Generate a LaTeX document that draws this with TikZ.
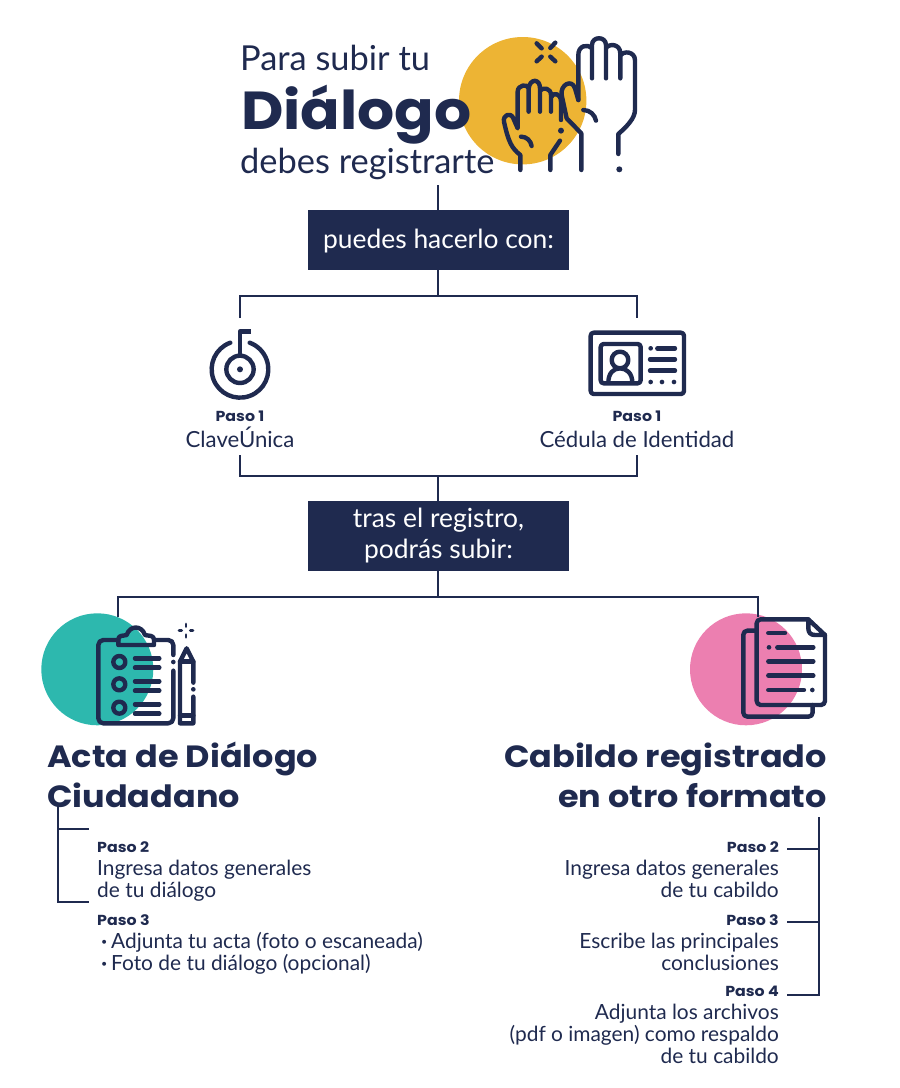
\documentclass[tikz,border=0pt]{standalone}
\usepackage{fontspec}
\setmainfont{Lato}
\newfontfamily\headfont[FakeStretch=1.09]{Poppins}
\definecolor{navy}{HTML}{1F2A4F}
\definecolor{amber}{HTML}{EDB434}
\definecolor{teal2}{HTML}{2DB8AE}
\definecolor{pink2}{HTML}{EC7FB0}
\tikzset{
 conn/.style={draw=navy,line width=1.9pt},
 icon/.style={draw=navy,line width=4.4pt,line cap=round,line join=round},
 zoomed/.style={x=.3333pt,y=-.3333pt},
 banner/.style={fill=navy,text=white,minimum width=261pt,inner sep=0pt,align=center,font=\fontsize{26.4}{31}\selectfont},
 body/.style={text=navy,inner sep=0pt,font=\fontsize{20.9}{22}\selectfont},
 bodybig/.style={text=navy,inner sep=0pt,font=\fontsize{22.2}{22}\selectfont},
 paso/.style={text=navy,inner sep=0pt,font=\headfont\bfseries\fontsize{14.5}{14}\selectfont},
 head/.style={text=navy,inner sep=0pt,font=\headfont\bfseries\fontsize{30.7}{40}\selectfont},
 title/.style={text=navy,inner sep=0pt,anchor=base west,font=\fontsize{34.4}{33}\selectfont},
}
\begin{document}
\begin{tikzpicture}[x=1pt,y=-1pt]
\useasboundingbox (0,0) rectangle (900,1088);
% coloured discs
\fill[amber] (522.7,100.7) circle (63.7);
\fill[teal2] (97.3,669.3) circle (56);
\fill[pink2] (746,669.3) circle (56);
% title
\node[title] (t1) at (240,70) {Para subir tu};
\node[text=navy,inner sep=0pt,anchor=base west,font=\headfont\bfseries\fontsize{53.5}{50}\selectfont] (t2) at (241,129) {Diálogo};
\node[title] (t3) at (240,173) {debes registrarte};
% banners
\node[banner,minimum height=60pt,text height=19pt,text depth=3pt] (b1) at (438.5,240) {puedes hacerlo con:};
\node[banner,minimum height=70pt] (b2) at (438.5,536) {tras el registro,\\podrás subir:};
% connector junctions
\coordinate (top) at (438,185);
\coordinate (j1) at (438,296);
\coordinate (j1l) at (240,296);
\coordinate (j1r) at (637,296);
\coordinate (k1) at (240,318);
\coordinate (k2) at (637,318);
\coordinate (m1) at (240,455);
\coordinate (m2) at (637,455);
\coordinate (j2) at (438,476);
\coordinate (j2l) at (240,476);
\coordinate (j2r) at (637,476);
\coordinate (j3) at (438,597);
\coordinate (j3l) at (118,597);
\coordinate (j3r) at (758,597);
\coordinate (n1) at (118,617);
\coordinate (n2) at (758,617);
\draw[conn] (top) -- (b1.north -| top);
\draw[conn] (b1.south -| top) -- (j1);
\draw[conn] (k1) -- (j1l) -- (j1r) -- (k2);
\draw[conn] (m1) -- (j2l) -- (j2r) -- (m2);
\draw[conn] (j2) -- (b2.north -| j2);
\draw[conn] (b2.south -| j2) -- (j3);
\draw[conn] (n1) -- (j3l) -- (j3r) -- (n2);
% left bracket
\coordinate (la) at (58,803);
\coordinate (lb) at (58,829);
\coordinate (lc) at (58,902);
\coordinate (lb2) at (89,829);
\coordinate (lc2) at (89,902);
\draw[conn] (la) -- (lc) -- (lc2);
\draw[conn] (lb) -- (lb2);
% right bracket
\coordinate (ra) at (819,817);
\coordinate (ra2) at (819,995);
\coordinate (rb) at (787,849);
\coordinate (rb2) at (819,849);
\coordinate (rc) at (787,922);
\coordinate (rc2) at (819,922);
\coordinate (rd) at (787,995);
\draw[conn] (ra) -- (ra2) -- (rd);
\draw[conn] (rb) -- (rb2);
\draw[conn] (rc) -- (rc2);
% hands icon
\begin{scope}[shift={(440,20)},zoomed,icon]
\draw (415,240) -- (415,105) .. controls (415,78) and (440,70) .. (456,85) (456,175) -- (456,75) .. controls (456,48) and (498,48) .. (498,75) -- (498,175) (498,85) .. controls (505,70) and (541,70) .. (541,100) -- (541,175) (541,108) .. controls (550,90) and (585,95) .. (585,120) -- (585,270) .. controls (585,295) and (560,320) .. (535,342) -- (535,402);
\draw (424,450) -- (424,340) -- (380,295) -- (365,225) .. controls (360,195) and (395,175) .. (405,205) -- (415,240);
\draw (430,270) .. controls (450,270) and (465,285) .. (468,302);
\draw (241,450) -- (241,405) .. controls (215,385) and (205,365) .. (192,305) .. controls (188,285) and (212,275) .. (220,295) -- (233,325) -- (233,215) .. controls (233,195) and (262,190) .. (266,205) -- (266,275) (266,205) .. controls (270,175) and (300,175) .. (300,205) -- (300,275) (300,212) .. controls (310,200) and (333,205) .. (333,225) -- (333,275) (333,232) .. controls (340,215) and (363,220) .. (363,245) -- (363,300);
\draw (331,450) -- (331,405) -- (360,362);
\draw (243,350) .. controls (260,350) and (272,362) .. (275,378);
\draw (290,70) -- (305,85) (346,68) -- (331,84) (290,124) -- (305,110) (346,124) -- (331,110);
\fill[navy,draw=none] (538,448) circle (9) (363,332) circle (9);
\end{scope}
% key icon
\begin{scope}[shift={(180,310)},zoomed,icon]
\draw (150.9,98.1) arc[start angle=-110,end angle=-430,radius=85];
\draw (180,178) circle (41);
\draw[line cap=butt] (180,137) -- (180,65) -- (212,65);
\fill[navy,draw=none] (180,178) circle (9);
\end{scope}
% id card icon
\begin{scope}[shift={(570,310)},zoomed,icon]
\draw[rounded corners=3pt] (62,68) rectangle (342,252);
\draw[rounded corners=3pt] (92,102) rectangle (212,220);
\draw (150,150) circle (25);
\draw (115,218) .. controls (115,190) and (130,175) .. (150,175) .. controls (170,175) and (187,190) .. (187,218);
\draw (262,115) -- (315,115) (240,148) -- (315,148) (240,182) -- (315,182);
\fill[navy,draw=none] (242,115) circle (7) (242,216) circle (7) (276,216) circle (7) (312,216) circle (7);
\end{scope}
% clipboard icon
\begin{scope}[shift={(30,600)},zoomed,icon]
\draw[rounded corners=5pt] (265,120) -- (205,120) -- (205,370) -- (430,370) -- (430,212);
\draw[rounded corners=5pt] (430,165) -- (430,120) -- (372,120);
\draw (265,135) -- (372,135) -- (372,118) .. controls (372,105) and (355,108) .. (345,105) .. controls (335,75) and (300,75) .. (290,105) .. controls (280,108) and (265,105) .. (265,118) -- cycle;
\draw (268,186) circle (18) (268,253) circle (18) (268,323) circle (18);
\draw (315,175) -- (388,175) (315,203) -- (388,203) (315,244) -- (388,244) (315,272) -- (388,272) (315,313) -- (388,313) (315,341) -- (388,341);
\draw (490,290) -- (490,370) -- (450,370) -- (450,185) -- (470,145) -- (490,185) -- (490,248);
\draw (450,185) -- (490,185) (450,347) -- (490,347);
\draw[line width=2.8pt] (468,72) -- (468,80) (468,104) -- (468,112) (447,92) -- (455,92) (481,92) -- (489,92);
\fill[navy,draw=none] (430,186) circle (7) (490,268) circle (7);
\end{scope}
% documents icon
\begin{scope}[shift={(680,600)},zoomed,icon]
\draw[rounded corners=4pt] (385,58) -- (230,58) -- (230,315) -- (435,315) -- (435,105);
\draw (385,58) -- (435,105) -- (405,105) .. controls (392,105) and (385,98) .. (385,85) -- cycle;
\draw[rounded corners=4pt] (230,92) -- (190,92) -- (190,350) -- (398,350) -- (398,315);
\draw (265,99) -- (315,99) (292,142) -- (400,142) (265,184) -- (400,184) (265,227) -- (400,227) (265,270) -- (372,270);
\fill[navy,draw=none] (267,142) circle (7) (397,270) circle (7);
\end{scope}
% labels
\node[paso,anchor=base] (p1a) at (240,421) {Paso 1};
\node[bodybig,anchor=base] (c1) at (240,447) {ClaveÚnica};
\node[paso,anchor=base] (p1b) at (637,421) {Paso 1};
\node[bodybig,anchor=base] (c2) at (637,447) {Cédula de Identidad};
\node[head,anchor=base west] (h1a) at (47,767) {Acta de Diálogo};
\node[head,anchor=base west] (h1b) at (47,807) {Ciudadano};
\node[head,anchor=base east] (h2a) at (827,767) {Cabildo registrado};
\node[head,anchor=base east] (h2b) at (827,807) {en otro formato};
\node[paso,anchor=base west] (l1) at (97,852) {Paso 2};
\node[body,anchor=base west] (l2) at (97,875) {Ingresa datos generales};
\node[body,anchor=base west] (l3) at (97,897) {de tu diálogo};
\node[paso,anchor=base west] (l4) at (97,925) {Paso 3};
\node[body,anchor=base west] (l5) at (97,948) {\makebox[14pt][c]{\textbf{·}}Adjunta tu acta (foto o escaneada)};
\node[body,anchor=base west] (l6) at (97,970) {\makebox[14pt][c]{\textbf{·}}Foto de tu diálogo (opcional)};
\node[paso,anchor=base east] (r1) at (779,852) {Paso 2};
\node[body,anchor=base east] (r2) at (779,875) {Ingresa datos generales};
\node[body,anchor=base east] (r3) at (779,897) {de tu cabildo};
\node[paso,anchor=base east] (r4) at (779,925) {Paso 3};
\node[body,anchor=base east] (r5) at (779,948) {Escribe las principales};
\node[body,anchor=base east] (r6) at (779,970) {conclusiones};
\node[paso,anchor=base east] (r7) at (779,996) {Paso 4};
\node[body,anchor=base east] (r8) at (779,1019) {Adjunta los archivos};
\node[body,anchor=base east] (r9) at (779,1041) {(pdf o imagen) como respaldo};
\node[body,anchor=base east] (r10) at (779,1063) {de tu cabildo};
\end{tikzpicture}
\end{document}
